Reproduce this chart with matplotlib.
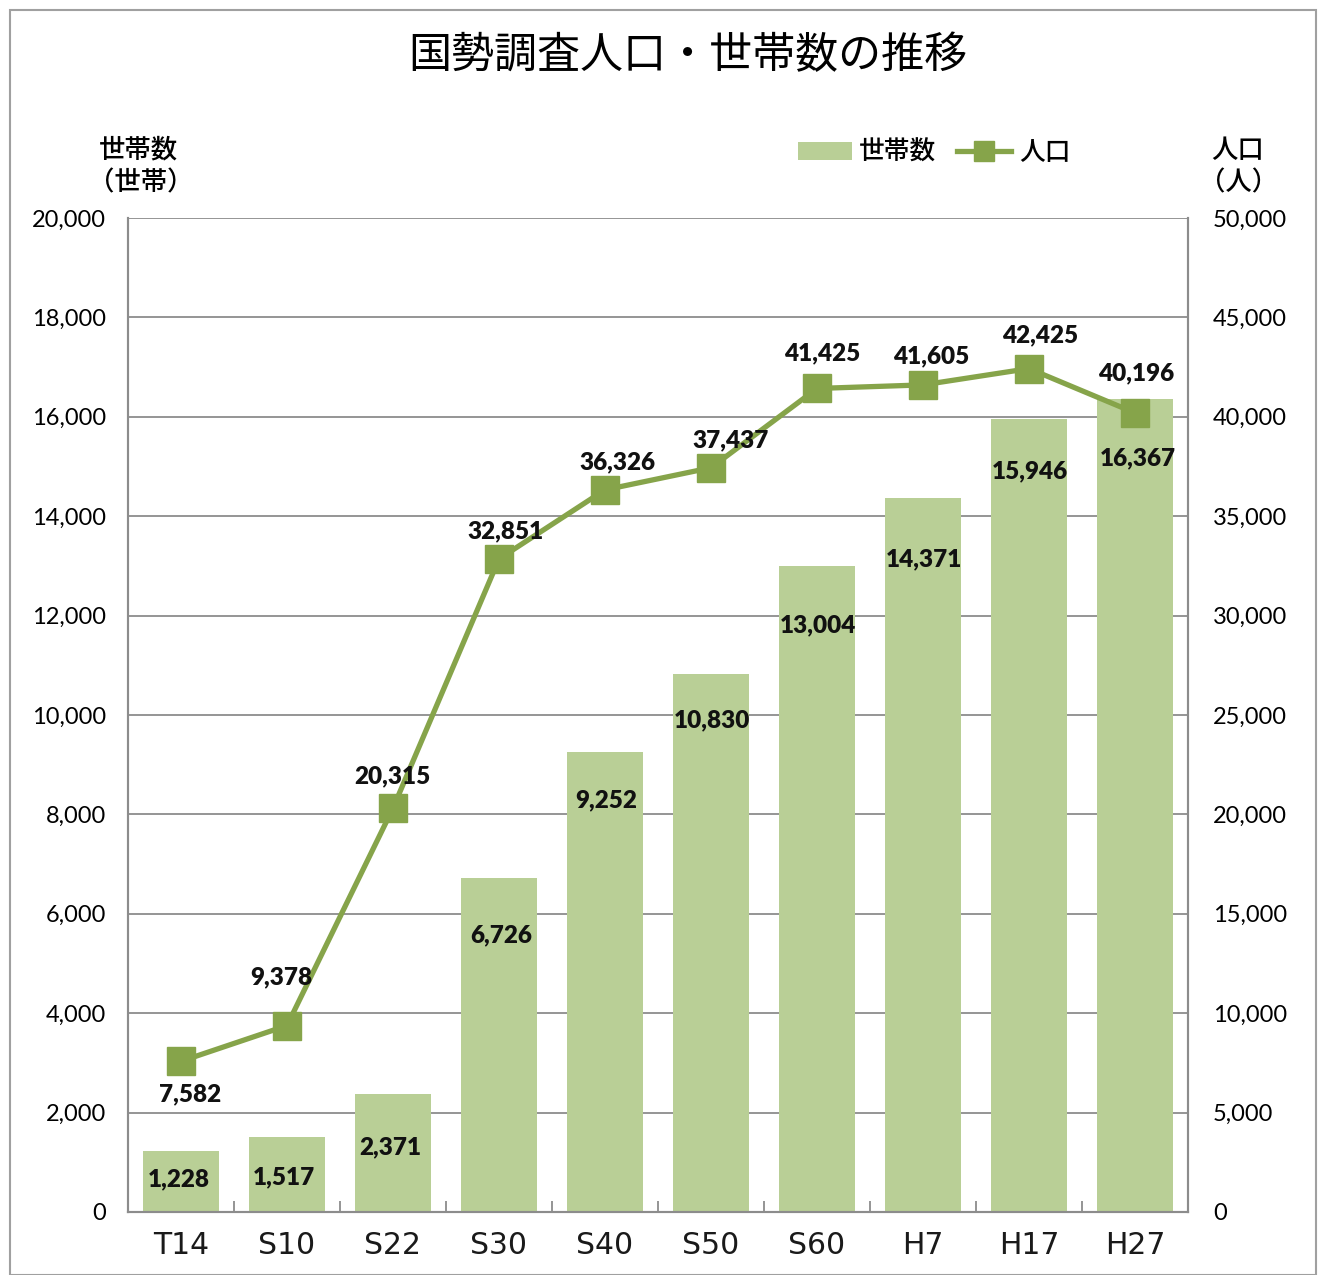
import matplotlib
matplotlib.use("Agg")
import matplotlib.pyplot as plt
from matplotlib.patches import Rectangle, Patch
from matplotlib.lines import Line2D
from matplotlib.ticker import FuncFormatter, MultipleLocator

categories = ["T14", "S10", "S22", "S30", "S40", "S50", "S60", "H7", "H17", "H27"]
households = [1228, 1517, 2371, 6726, 9252, 10830, 13004, 14371, 15946, 16367]
population = [7582, 9378, 20315, 32851, 36326, 37437, 41425, 41605, 42425, 40196]

title = "国勢調査人口・世帯数の推移"
left_label = ["世帯数", "（世帯）"]
right_label = ["人口", "（人）"]
bar_name = "世帯数"
line_name = "人口"

BAR_C = "#B9CF96"
LINE_C = "#86A44A"
GRID_C = "#8C8C8C"
CJK = ["Noto Sans CJK JP", "DejaVu Sans"]
NUM = ["Lato", "DejaVu Sans"]

fig = plt.figure(figsize=(13.19, 12.75), dpi=100)
W, H = 1319, 1275
fig.add_artist(Rectangle((10 / W, 0), 1306 / W, 1 - 10 / H, transform=fig.transFigure,
                         fill=False, edgecolor="#A0A0A0", linewidth=1.5))

ax = fig.add_axes([128 / W, 1 - 1212 / H, (1188 - 128) / W, (1212 - 218) / H])
ax2 = ax.twinx()

x = list(range(len(categories)))
ax.bar(x, households, width=0.72, color=BAR_C, zorder=2)
ax.set_xlim(-0.5, len(categories) - 0.5)
ax.set_ylim(0, 20000)
ax.yaxis.set_major_locator(MultipleLocator(2000))
ax.yaxis.set_major_formatter(FuncFormatter(lambda v, p: f"{int(v):,}"))
ax.grid(axis="y", color=GRID_C, linewidth=1.3, zorder=0)
ax.set_axisbelow(True)
ax.set_xticks(x)
ax.set_xticklabels(categories, fontfamily=["DejaVu Sans"], fontsize=21.5, color="#1a1a1a")
ax.set_xticks([i + 0.5 for i in x[:-1]], minor=True)
ax.tick_params(axis="x", which="major", length=0, pad=14)
ax.tick_params(axis="x", which="minor", length=8, direction="in", color=GRID_C, width=1.3)
ax.tick_params(axis="y", length=0, pad=16, labelsize=17)
for lab in ax.get_yticklabels():
    lab.set_fontfamily(NUM)

for s in ["top"]:
    ax.spines[s].set_visible(False)
    ax2.spines[s].set_visible(False)
for a in (ax, ax2):
    for s in ["left", "right", "bottom"]:
        a.spines[s].set_color(GRID_C)
        a.spines[s].set_linewidth(1.5)

ax2.plot(x, population, color=LINE_C, linewidth=3.8, marker="s", markersize=20,
         markerfacecolor=LINE_C, markeredgecolor=LINE_C, zorder=3)
ax2.set_ylim(0, 50000)
ax2.yaxis.set_major_locator(MultipleLocator(5000))
ax2.yaxis.set_major_formatter(FuncFormatter(lambda v, p: f"{int(v):,}"))
ax2.tick_params(axis="y", length=0, pad=18, labelsize=17)
for lab in ax2.get_yticklabels():
    lab.set_fontfamily(NUM)

# bar labels (pixel offsets below bar top)
bar_off = [-28, -41, -53, -58, -48, -47, -60, -62, -52, -60]
bar_dx = [-2, -3, -3, 2, 1, 1, 1, 1, 1, 3]
for i, v in enumerate(households):
    ax.annotate(f"{v:,}", (i, v), xytext=(bar_dx[i] * 0.72, bar_off[i] * 0.72), textcoords="offset points",
                ha="center", va="center", fontsize=17.5, fontweight="heavy", fontfamily=NUM,
                color="#111111", zorder=5)

line_off = [(9, -33), (-6, 48), (-1, 32), (7, 28), (12, 28), (20, 27), (5, 35), (8, 29), (11, 33), (1, 40)]
for i, v in enumerate(population):
    dx, dy = line_off[i]
    ax2.annotate(f"{v:,}", (i, v), xytext=(dx * 0.72, dy * 0.72), textcoords="offset points",
                 ha="center", va="center", fontsize=17.5, fontweight="heavy", fontfamily=NUM,
                 color="#111111", zorder=5)

fig.text(688 / W, 1 - 56 / H, title, ha="center", va="center", fontsize=31, fontfamily=CJK)
fig.text(99 / W, 1 - 150 / H, left_label[0], ha="left", va="center", fontsize=19,
         fontfamily=CJK, fontweight="medium")
fig.text(88 / W, 1 - 183 / H, left_label[1], ha="left", va="center", fontsize=19,
         fontfamily=CJK, fontweight="medium")
fig.text(1211 / W, 1 - 150 / H, right_label[0], ha="left", va="center", fontsize=19,
         fontfamily=CJK, fontweight="medium")
fig.text(1199 / W, 1 - 183 / H, right_label[1], ha="left", va="center", fontsize=19,
         fontfamily=CJK, fontweight="medium")

handles = [Patch(facecolor=BAR_C, edgecolor="none"),
           Line2D([0], [0], color=LINE_C, linewidth=3.8, marker="s", markersize=14)]
leg = fig.legend(handles, [bar_name, line_name], loc="center", bbox_to_anchor=(934 / W, 1 - 152 / H),
                 ncol=2, frameon=False, prop={"family": CJK, "size": 18.5, "weight": "medium"},
                 handlelength=2.1, handletextpad=0.3, columnspacing=0.8, handleheight=0.7)

fig.savefig("out.png", dpi=100)
